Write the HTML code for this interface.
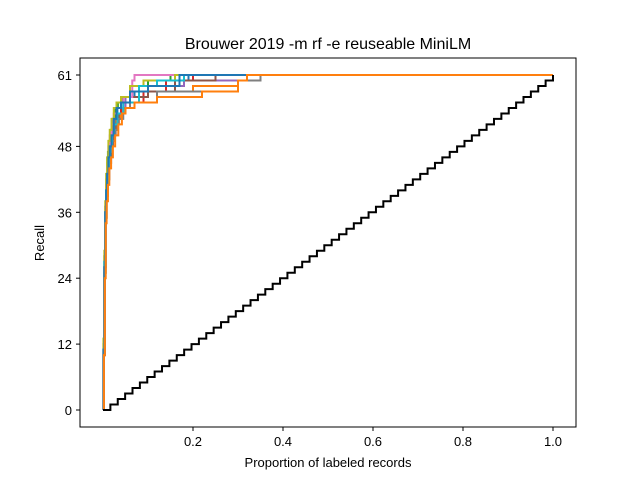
<!DOCTYPE html>
<html><head><meta charset="utf-8"><style>
body{margin:0;background:#fff;}
svg{font-family:"Liberation Sans","DejaVu Sans",sans-serif;}
</style></head><body>
<svg id="chart" width="640" height="480">
<rect width="640" height="480" fill="#fff"/>
<text x="328" y="49" font-size="16" text-anchor="middle">Brouwer 2019 -m rf -e reuseable MiniLM</text>
<g id="plot"></g>
<rect x="80" y="58" width="496" height="369" fill="none" stroke="#000" stroke-width="1"/>
<g id="xt"></g><g id="yt"></g>
<text x="328" y="467" font-size="13" text-anchor="middle">Proportion of labeled records</text>
<text transform="translate(44,243) rotate(-90)" font-size="13" text-anchor="middle">Recall</text>
</svg>
<script>
const xTicks=[0.2,0.4,0.6,0.8,1.0];
const yTicks=[0,12,24,36,48,61];
const totalRelevant=61;
const colors=["#1f77b4","#ff7f0e","#2ca02c","#d62728","#9467bd","#8c564b","#e377c2","#7f7f7f","#bcbd22","#17becf","#1f77b4","#ff7f0e"];
const s0=[[0,0],[0.001,10],[0.003,25],[0.005,36],[0.007,40],[0.009,43],[0.011,46],[0.014,48],[0.017,50],[0.021,52],[0.026,54],[0.032,55],[0.04,56],[0.05,57],[0.07,58],[0.1,59],[0.14,60],[0.19,61]];
const s1=[[0,0],[0.002,10],[0.004,25],[0.006,35],[0.008,39],[0.01,42],[0.013,45],[0.016,47],[0.02,49],[0.025,51],[0.03,53],[0.038,54],[0.05,55],[0.07,56],[0.12,58],[0.2,59],[0.3,60],[0.35,61]];
const s2=[[0,0],[0.001,12],[0.003,28],[0.005,37],[0.007,41],[0.009,44],[0.011,47],[0.014,49],[0.017,51],[0.021,53],[0.026,55],[0.033,56],[0.042,57],[0.06,59],[0.1,60],[0.15,61]];
const s3=[[0,0],[0.001,10],[0.003,26],[0.005,35],[0.007,39],[0.01,42],[0.013,45],[0.016,48],[0.02,50],[0.025,52],[0.032,54],[0.04,55],[0.05,56],[0.09,58],[0.14,60],[0.2,61]];
const s4=[[0,0],[0.001,11],[0.003,27],[0.005,37],[0.007,41],[0.009,44],[0.012,47],[0.015,49],[0.019,51],[0.023,53],[0.03,55],[0.05,57],[0.08,59],[0.18,60],[0.35,61]];
const s5=[[0,0],[0.002,10],[0.004,26],[0.006,35],[0.008,39],[0.011,42],[0.014,45],[0.018,48],[0.022,50],[0.028,52],[0.035,54],[0.045,55],[0.06,57],[0.1,58],[0.16,60],[0.25,61]];
const s6=[[0,0],[0.001,12],[0.003,28],[0.005,37],[0.007,42],[0.009,45],[0.012,48],[0.015,50],[0.019,52],[0.024,54],[0.03,55],[0.045,57],[0.065,60],[0.07,61]];
const s7=[[0,0],[0.002,10],[0.004,25],[0.006,35],[0.008,39],[0.01,42],[0.013,45],[0.016,47],[0.02,49],[0.026,51],[0.033,53],[0.045,55],[0.06,56],[0.12,58],[0.3,60],[0.35,61]];
const s8=[[0,0],[0.001,13],[0.003,29],[0.005,38],[0.007,43],[0.009,46],[0.012,49],[0.015,51],[0.019,53],[0.024,55],[0.03,56],[0.04,57],[0.06,59],[0.09,60],[0.16,61]];
const s9=[[0,0],[0.001,11],[0.003,27],[0.005,36],[0.007,40],[0.01,43],[0.013,46],[0.016,48],[0.02,50],[0.025,52],[0.032,54],[0.045,56],[0.08,59],[0.12,60],[0.18,61]];
const s10=[[0,0],[0.001,11],[0.003,26],[0.005,36],[0.007,40],[0.009,43],[0.012,46],[0.015,48],[0.019,50],[0.024,53],[0.03,55],[0.04,56],[0.06,58],[0.1,59],[0.17,61]];
const s11=[[0,0],[0.002,10],[0.004,24],[0.006,34],[0.008,38],[0.011,41],[0.014,44],[0.018,46],[0.022,48],[0.027,50],[0.034,52],[0.042,54],[0.05,55],[0.07,56],[0.12,57],[0.22,58],[0.3,60],[0.32,61]];
const series=[s0,s1,s2,s3,s4,s5,s6,s7,s8,s9,s10,s11];
const X=v=>103+v*450, Y=v=>410-v*(335/61);
const NS="http://www.w3.org/2000/svg";
const plot=document.getElementById('plot');
function stepPath(pts){let d=`M${X(pts[0][0])},${Y(pts[0][1])}`;
 for(let i=1;i<pts.length;i++){d+=`H${X(pts[i][0])}V${Y(pts[i][1])}`;}
 d+=`H${X(1)}`;return d;}
series.forEach((s,i)=>{const p=document.createElementNS(NS,'path');
 p.setAttribute('d',stepPath(s));p.setAttribute('fill','none');p.setAttribute('stroke',colors[i]);p.setAttribute('stroke-width','2');
 
 
 plot.appendChild(p);});
let d=`M${X(0)},${Y(0)}`;
for(let k=1;k<=totalRelevant;k++){d+=`V${Y(k-1)}H${X(k/totalRelevant)}V${Y(k)}`;}
const b=document.createElementNS(NS,'path');b.setAttribute('d',d);b.setAttribute('fill','none');b.setAttribute('stroke','#000');b.setAttribute('stroke-width','2');


plot.appendChild(b);
const xt=document.getElementById('xt'),yt=document.getElementById('yt');
xTicks.forEach(v=>{const g=document.createElementNS(NS,'g');
 
 
 g.innerHTML=`<line x1="${X(v)}" x2="${X(v)}" y1="427" y2="431" stroke="#000"/><text x="${X(v)}" y="446" font-size="13" text-anchor="middle">${v.toFixed(1)}</text>`;xt.appendChild(g);});
yTicks.forEach(v=>{const g=document.createElementNS(NS,'g');
 
 
 g.innerHTML=`<line x1="76" x2="80" y1="${Y(v)}" y2="${Y(v)}" stroke="#000"/><text x="72" y="${Y(v)+5}" font-size="13" text-anchor="end">${v}</text>`;yt.appendChild(g);});
</script>
</body></html>
